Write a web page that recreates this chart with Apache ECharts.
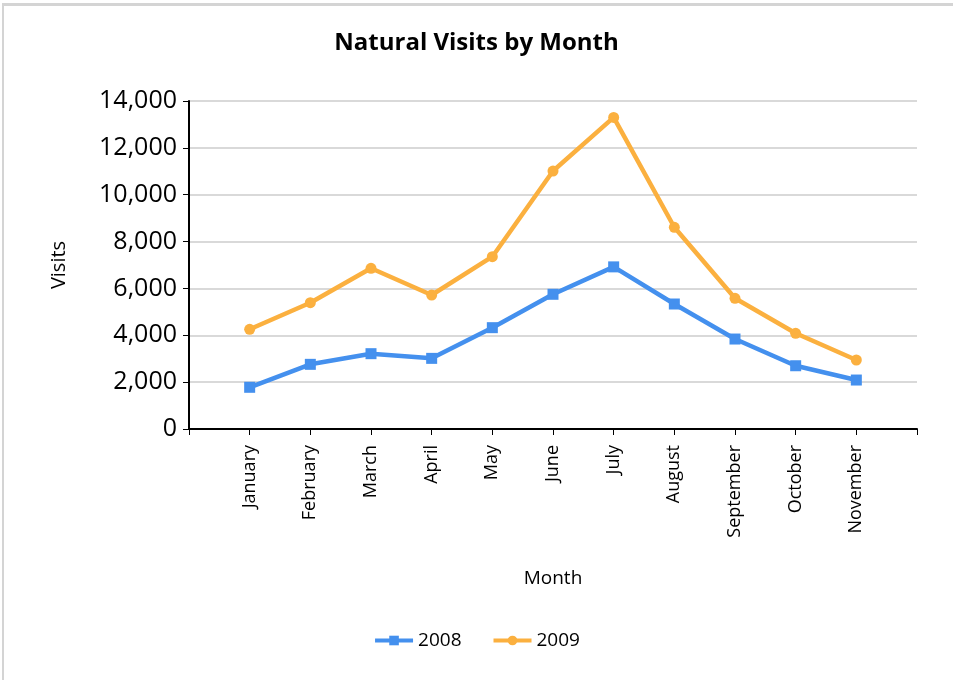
<!DOCTYPE html>
<html><head><meta charset="utf-8">
<script src="https://cdn.jsdelivr.net/npm/echarts@6/dist/echarts.min.js"></script>
<style>
html,body{margin:0;padding:0;background:#fff;overflow:hidden;}
#frame{position:absolute;left:2px;top:3px;width:1000px;height:800px;border-top:3px solid #d4d4d4;border-left:2px solid #d4d4d4;}
#chart{position:absolute;left:0;top:0;width:953px;height:680px;}
</style></head>
<body>
<div id="frame"></div>
<div id="chart"></div>
<script>
const categories = ["", "January", "February", "March", "April", "May", "June", "July", "August", "September", "October", "November", ""];
const visits2008 = [null, 1780, 2760, 3215, 3015, 4325, 5750, 6920, 5335, 3840, 2700, 2090, null];
const visits2009 = [null, 4255, 5390, 6860, 5720, 7355, 11010, 13300, 8610, 5580, 4085, 2945, null];
const seriesNames = ["2008", "2009"];
const FONT = "Open Sans";

const chart = echarts.init(document.getElementById('chart'));
chart.setOption({
  backgroundColor: 'transparent',
  title: {
    text: 'Natural Visits by Month', left: 'center', top: 26,
    textStyle: {fontFamily: FONT, fontSize: 24, fontWeight: 'bold', color: '#000'}
  },
  legend: {
    bottom: 25, left: 'center', itemWidth: 38, itemHeight: 12, itemGap: 30,
    lineStyle: {width: 4},
    textStyle: {fontFamily: FONT, fontSize: 19, color: '#000'},
    data: seriesNames
  },
  grid: {left: 189, right: 36, top: 101, bottom: 251, containLabel: false},
  xAxis: {
    type: 'category', data: categories, boundaryGap: false,
    name: 'Month', nameLocation: 'middle', nameGap: 140,
    nameTextStyle: {fontFamily: FONT, fontSize: 19, color: '#000'},
    axisLine: {lineStyle: {color: '#000', width: 2}},
    axisTick: {show: true, length: 6, lineStyle: {color: '#000', width: 1}, alignWithLabel: true, interval: 0},
    axisLabel: {rotate: 90, interval: 0, margin: 16, fontFamily: FONT, fontSize: 18, color: '#000'},
    splitLine: {show: false}
  },
  yAxis: {
    type: 'value', min: 0, max: 14000, interval: 2000,
    name: 'Visits', nameLocation: 'middle', nameGap: 120, nameRotate: 90,
    nameTextStyle: {fontFamily: FONT, fontSize: 20, color: '#000'},
    axisLine: {show: true, lineStyle: {color: '#000', width: 2}},
    axisTick: {show: true, length: 6, lineStyle: {color: '#000', width: 1}},
    axisLabel: {margin: 12, fontFamily: FONT, fontSize: 25, color: '#000',
      formatter: v => v.toLocaleString('en-US')},
    splitLine: {show: true, lineStyle: {color: '#d9d9d9', width: 2}}
  },
  series: [
    {name: seriesNames[0], type: 'line', data: visits2008, symbol: 'rect', symbolSize: 11,
     lineStyle: {width: 4.5, color: '#4490ee'}, itemStyle: {color: '#4490ee'}, connectNulls: false, z: 3},
    {name: seriesNames[1], type: 'line', data: visits2009, symbol: 'circle', symbolSize: 11,
     lineStyle: {width: 4.5, color: '#fbb03f'}, itemStyle: {color: '#fbb03f'}, connectNulls: false, z: 2}
  ],
  animation: false
});
</script>
</body></html>
